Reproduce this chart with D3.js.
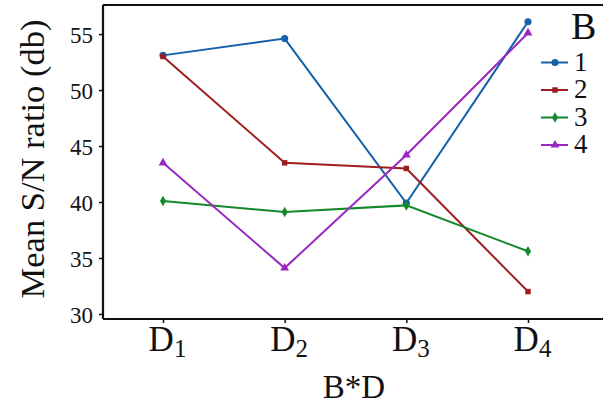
<!DOCTYPE html>
<html>
<head>
<meta charset="utf-8">
<script src="https://cdn.jsdelivr.net/npm/d3@7"></script>
<style>
html,body{margin:0;padding:0;background:#fff;}
svg{display:block;}
text{font-family:"Liberation Serif","Times New Roman",serif;fill:#111;}
</style>
</head>
<body>
<svg id="chart" width="603" height="406"></svg>
<script>
const categories = ["1", "2", "3", "4"]; // D subscripts
const seriesNames = ["1", "2", "3", "4"];
const series1 = [53.1, 54.6, 39.9, 56.1];
const series2 = [53.0, 43.5, 43.0, 32.0];
const series3 = [40.1, 39.1, 39.7, 35.6];
const series4 = [43.5, 34.1, 44.2, 55.1];
const yTicks = [30, 35, 40, 45, 50, 55];

const colors = ["#1661a9", "#9e1d1f", "#14892b", "#9b27c1"];
const symbols = [d3.symbolCircle, d3.symbolSquare, d3.symbolDiamond, d3.symbolTriangle];
const symSizes = [40, 30, 32, 34];
const allSeries = [series1, series2, series3, series4];

const svg = d3.select("#chart");
const mLeft = 103, mRight = 603, mTop = 5, mBottom = 319;

const x = d3.scalePoint().domain(categories).range([163, 528]);
const y = d3.scaleLinear().domain([29.55, 57.6]).range([mBottom, mTop]);

// frame top line
svg.append("line").attr("x1", mLeft).attr("x2", mRight).attr("y1", mTop).attr("y2", mTop)
  .attr("stroke", "#111").attr("stroke-width", 2);

// y axis
const yAxis = svg.append("g").attr("transform", `translate(${mLeft},0)`)
  .call(d3.axisLeft(y).tickValues(yTicks).tickSize(4).tickSizeOuter(0).tickPadding(6));
yAxis.select(".domain").attr("stroke", "#111").attr("stroke-width", 2.2)
  .attr("d", `M0,${mTop}V${mBottom}`);
yAxis.selectAll(".tick line").attr("stroke", "#111").attr("stroke-width", 1.5);
yAxis.selectAll(".tick text").attr("font-size", 23).attr("fill", "#111")
  .style("font-family", '"Liberation Serif",serif').attr("dy", "0.35em");

// x axis
const xAxis = svg.append("g").attr("transform", `translate(0,${mBottom})`)
  .call(d3.axisBottom(x).tickSize(4).tickSizeOuter(0).tickFormat(""));
xAxis.select(".domain").attr("stroke", "#111").attr("stroke-width", 2.2)
  .attr("d", `M${mLeft},0H${mRight}`);
xAxis.selectAll(".tick line").attr("stroke", "#111").attr("stroke-width", 1.5);
xAxis.selectAll(".tick").append("text")
  .attr("y", 32).attr("x", 4).attr("text-anchor", "middle").attr("font-size", 35)
  .style("font-family", '"Liberation Serif",serif').attr("fill", "#111")
  .each(function(d) {
    const t = d3.select(this);
    t.append("tspan").text("D");
    t.append("tspan").attr("font-size", 25).attr("dy", 6).text(d);
  });

// lines and markers
const line = d3.line().x((d, i) => x(categories[i])).y(d => y(d));
allSeries.forEach((s, k) => {
  svg.append("path").datum(s).attr("d", line).attr("fill", "none")
    .attr("stroke", colors[k]).attr("stroke-width", 2);
  svg.selectAll(null).data(s).enter().append("path")
    .attr("d", d3.symbol().type(symbols[k]).size(symSizes[k]))
    .attr("transform", (d, i) => `translate(${x(categories[i])},${y(d)})`)
    .attr("fill", colors[k]);
});

// axis titles
svg.append("text").attr("transform", "translate(44,159) rotate(-90)")
  .attr("text-anchor", "middle").attr("font-size", 34.5).text("Mean S/N ratio (db)");
svg.append("text").attr("x", 354).attr("y", 398).attr("text-anchor", "middle")
  .attr("font-size", 33).text("B*D");

// legend
const lg = svg.append("g");
lg.append("text").attr("x", 571).attr("y", 39).attr("font-size", 38).text("B");
seriesNames.forEach((n, k) => {
  const yy = 62.5 + k * 27.5;
  lg.append("line").attr("x1", 541).attr("x2", 568).attr("y1", yy).attr("y2", yy)
    .attr("stroke", colors[k]).attr("stroke-width", 2);
  lg.append("path").attr("d", d3.symbol().type(symbols[k]).size(symSizes[k]))
    .attr("transform", `translate(555,${yy})`).attr("fill", colors[k]);
  lg.append("text").attr("x", 574).attr("y", yy + 8).attr("font-size", 27).text(n);
});
</script>
</body>
</html>
